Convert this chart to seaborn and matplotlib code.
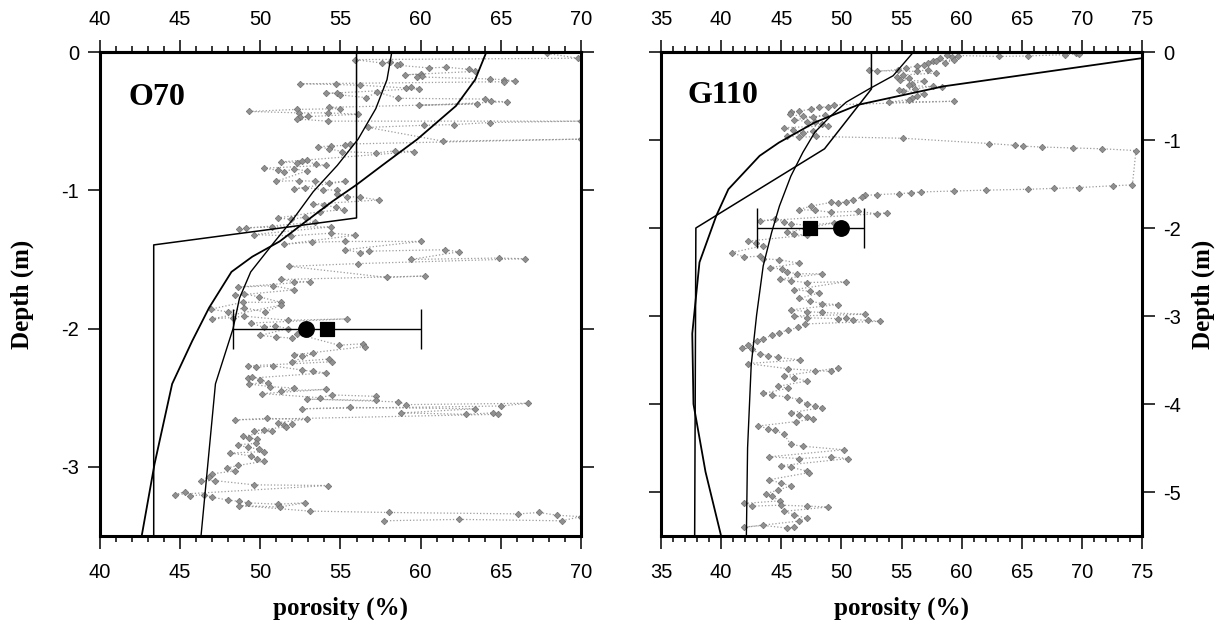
import matplotlib
matplotlib.use("Agg")
import matplotlib.pyplot as plt
import seaborn as sns
from matplotlib.ticker import MultipleLocator

# ---- O70 core: measured porosity (%) and depth (m) ----
o70_por = [67.9, 69.8, 55.9, 57.6, 58.1, 58.7, 58.5, 60.5, 61.6, 63.0, 63.4, 59.0, 60.0, 60.1, 59.8,
           64.3, 65.2, 65.9, 65.2, 52.5, 54.7, 56.2, 59.1, 59.4, 59.9, 54.1, 54.8, 55.0, 56.6, 57.3,
           58.6, 64.0, 64.4, 65.4, 59.9, 63.5, 54.3, 55.0, 52.3, 49.3, 52.4, 54.2, 56.1, 52.5, 53.0,
           52.3, 54.2, 70.0, 64.3, 62.1, 60.2, 56.7, 61.4, 70.0, 55.6, 55.3, 54.4, 53.6, 54.3, 55.1,
           57.2, 58.4, 59.6, 52.9, 51.3, 52.3, 52.6, 53.5, 54.1, 50.2, 51.1, 51.5, 52.1, 52.9, 51.0,
           52.4, 53.4, 54.3, 55.3, 52.1, 52.8, 53.9, 54.8, 54.8, 55.4, 56.2, 57.4, 53.3, 54.0, 54.7,
           55.2, 53.7, 51.1, 51.9, 52.8, 53.4, 48.7, 49.1, 50.7, 54.4, 49.6, 51.9, 54.4, 55.9, 51.5,
           53.2, 55.3, 60.0, 55.3, 56.2, 56.8, 61.5, 62.4, 59.4, 64.9, 66.5, 56.1, 51.8, 57.9, 60.3,
           51.3, 52.1, 53.1, 48.6, 50.8, 52.1, 48.4, 49.0, 49.9, 51.3, 48.9, 46.9, 48.0, 49.0, 50.3,
           51.3, 47.0, 48.3, 49.0, 51.7, 55.4, 49.4, 50.2, 50.9, 51.7, 50.0, 51.0, 52.0, 52.3, 54.9,
           56.4, 56.5, 52.1, 52.6, 53.3, 52.0, 54.3, 54.5, 49.2, 49.7, 50.8, 52.6, 53.3, 54.1, 49.2,
           49.5, 50.0, 50.5, 49.3, 50.6, 52.1, 51.3, 54.1, 50.1, 53.7, 54.5, 57.2, 57.2, 52.9, 58.6,
           59.1, 66.7, 65.0, 52.6, 55.6, 63.4, 58.8, 62.8, 64.5, 64.8, 48.4, 50.4, 52.9, 51.1, 51.5,
           52.0, 51.6, 49.6, 50.2, 50.7, 48.9, 49.3, 49.8, 49.75, 48.6, 49.2, 49.9, 50.2, 48.1, 49.4,
           49.8, 50.2, 48.6, 47.9, 48.4, 47.0, 46.8, 46.3, 47.2, 49.6, 54.2, 44.7, 45.3, 45.6, 46.5,
           47.0, 48.0, 48.7, 49.2, 51.1, 52.8, 51.2, 48.7, 53.1, 58.05, 66.1, 67.4, 68.5, 70.0, 68.8,
           62.4, 57.7]
o70_dep = [-0.01, -0.045, -0.055, -0.08, -0.075, -0.085, -0.095, -0.115, -0.11, -0.125, -0.14, -0.165,
           -0.16, -0.175, -0.18, -0.195, -0.2, -0.21, -0.215, -0.23, -0.235, -0.24, -0.26, -0.255,
           -0.265, -0.3, -0.295, -0.31, -0.33, -0.29, -0.335, -0.34, -0.355, -0.36, -0.385, -0.375,
           -0.4, -0.41, -0.415, -0.43, -0.44, -0.44, -0.45, -0.47, -0.465, -0.485, -0.5, -0.5, -0.51,
           -0.525, -0.53, -0.545, -0.645, -0.63, -0.665, -0.675, -0.68, -0.685, -0.7, -0.72, -0.73,
           -0.715, -0.72, -0.78, -0.795, -0.8, -0.785, -0.81, -0.82, -0.84, -0.855, -0.865, -0.845,
           -0.86, -0.935, -0.93, -0.935, -0.945, -0.935, -0.99, -0.98, -0.995, -1.0, -1.03, -1.045,
           -1.05, -1.07, -1.1, -1.11, -1.12, -1.14, -1.155, -1.2, -1.21, -1.195, -1.23, -1.28, -1.27,
           -1.265, -1.265, -1.32, -1.33, -1.31, -1.325, -1.39, -1.375, -1.37, -1.37, -1.43, -1.45,
           -1.44, -1.43, -1.445, -1.5, -1.49, -1.495, -1.53, -1.55, -1.63, -1.62, -1.645, -1.66,
           -1.66, -1.7, -1.69, -1.72, -1.76, -1.75, -1.77, -1.81, -1.81, -1.86, -1.88, -1.85, -1.88,
           -1.83, -1.93, -1.92, -1.91, -1.94, -1.93, -1.96, -1.99, -1.98, -2.0, -2.05, -2.06, -2.07,
           -2.04, -2.12, -2.11, -2.13, -2.19, -2.2, -2.18, -2.24, -2.22, -2.24, -2.27, -2.28, -2.27,
           -2.3, -2.31, -2.32, -2.36, -2.35, -2.37, -2.39, -2.4, -2.42, -2.43, -2.45, -2.44, -2.47,
           -2.5, -2.48, -2.49, -2.52, -2.51, -2.53, -2.55, -2.54, -2.56, -2.58, -2.57, -2.58, -2.61,
           -2.62, -2.61, -2.62, -2.66, -2.65, -2.655, -2.68, -2.7, -2.69, -2.71, -2.74, -2.73, -2.74,
           -2.78, -2.79, -2.8, -2.83, -2.84, -2.86, -2.87, -2.89, -2.9, -2.92, -2.94, -2.96, -2.99,
           -3.01, -3.03, -3.05, -3.07, -3.1, -3.1, -3.13, -3.135, -3.2, -3.18, -3.21, -3.2, -3.22,
           -3.24, -3.25, -3.26, -3.27, -3.26, -3.29, -3.28, -3.32, -3.33, -3.34, -3.33, -3.35, -3.36,
           -3.39, -3.38, -3.39]

# O70 model profiles
o70_step_por = [56.0, 56.0, 43.35, 43.35]
o70_step_dep = [0.0, -1.2, -1.395, -3.5]
o70_a_por = [58.2, 57.9, 57.2, 56.1, 54.8, 53.3, 52.1, 50.9, 49.4, 48.7, 48.3, 47.2, 46.3]
o70_a_dep = [0.0, -0.2, -0.41, -0.63, -0.82, -1.01, -1.2, -1.37, -1.59, -1.78, -2.0, -2.4, -3.5]
o70_b_por = [64.1, 63.4, 62.2, 59.8, 57.6, 56.0, 54.5, 52.9, 51.2, 49.5, 48.2, 46.8, 45.75, 44.5, 43.4, 42.6]
o70_b_dep = [0.0, -0.2, -0.39, -0.63, -0.82, -0.96, -1.08, -1.22, -1.37, -1.48, -1.59, -1.85, -2.09, -2.4, -2.98, -3.5]
o70_circle = (52.85, -2.0)
o70_square = (54.15, -2.0)
o70_err = 5.85

# ---- G110 core ----
g110_por = [69.5, 69.8, 68.6, 65.5, 63.1, 59.7, 59.2, 58.8, 58.2, 57.6, 59.4, 58.6, 57.9, 57.2, 56.9,
            56.3, 55.4, 54.7, 53.0, 52.3, 56.3, 57.2, 57.9, 55.1, 54.6, 55.6, 54.9, 56.9, 55.9, 55.6,
            58.4, 57.6, 56.1, 55.1, 54.8, 56.9, 56.3, 55.9, 55.6, 54.0, 59.4, 49.4, 48.9, 48.1, 47.5,
            46.5, 45.8, 45.7, 46.8, 47.6, 48.6, 46.1, 47.1, 47.8, 48.4, 48.9, 45.2, 46.0, 46.8, 47.6,
            45.5, 46.5, 47.9, 55.1, 62.3, 64.4, 65.1, 66.7, 69.3, 71.7, 74.5,
            74.2, 72.6, 69.8, 67.7, 65.5, 62.0, 59.4, 56.6, 55.8, 54.8, 53.0, 52.0, 51.7, 51.0, 50.4,
            49.7, 49.1, 47.5, 46.5, 47.8, 49.1, 51.4, 53.0, 53.8, 43.2, 44.5, 45.2, 45.8, 47.1, 49.4,
            45.5, 46.1, 47.1, 42.2, 42.9, 43.5, 40.9, 41.9, 43.2, 43.5, 44.8, 46.5, 44.1, 45.1, 45.5,
            46.3, 48.4, 44.9, 45.8, 47.1, 50.4, 46.1, 47.4, 48.1, 46.5, 47.4, 48.4, 49.7, 45.8, 47.1,
            48.4, 52.0, 46.1, 47.1, 49.7, 50.4, 51.0, 52.2, 53.2, 47.0, 46.4, 45.6, 44.8, 44.2, 43.5,
            43.0, 42.2, 41.75, 42.6, 43.2, 43.9, 44.7, 46.6, 42.2, 45.6, 47.8, 49.1, 49.7, 45.2, 46.1,
            47.1, 44.7, 45.6, 43.5, 44.2, 45.5, 46.5, 47.1, 47.8, 48.4, 45.8, 46.5, 47.1, 47.6, 46.2,
            43.1, 43.9, 44.5, 45.2, 45.8, 46.8, 50.2, 44.0, 46.5, 49.1, 50.55, 45.0, 45.8, 47.1, 47.3,
            44.0, 45.0, 45.8, 44.7, 43.7, 44.2, 44.9, 41.9, 42.6, 45.0, 47.1, 48.9, 45.2, 46.1, 47.1,
            46.5, 41.9, 43.5, 45.5, 46.1]
g110_dep = [-0.01, -0.02, -0.03, -0.045, -0.05, -0.04, -0.06, -0.03, -0.07, -0.1, -0.09, -0.12, -0.1,
            -0.13, -0.15, -0.16, -0.18, -0.2, -0.22, -0.21, -0.22, -0.2, -0.24, -0.26, -0.28, -0.3,
            -0.32, -0.33, -0.36, -0.38, -0.4, -0.39, -0.42, -0.44, -0.43, -0.48, -0.5, -0.52, -0.54,
            -0.57, -0.56, -0.6, -0.62, -0.63, -0.65, -0.67, -0.68, -0.71, -0.73, -0.74, -0.72, -0.77,
            -0.79, -0.8, -0.82, -0.84, -0.86, -0.89, -0.92, -0.9, -0.95, -0.97, -0.96, -0.98, -1.04,
            -1.06, -1.07, -1.08, -1.09, -1.1, -1.12,
            -1.51, -1.52, -1.54, -1.55, -1.56, -1.57, -1.58, -1.59, -1.6, -1.61, -1.62, -1.63, -1.65,
            -1.68, -1.7, -1.72, -1.71, -1.75, -1.79, -1.8, -1.82, -1.81, -1.84, -1.83, -1.92, -1.9,
            -1.93, -1.95, -1.97, -1.94, -2.05, -2.07, -2.08, -2.15, -2.17, -2.2, -2.28, -2.33, -2.32,
            -2.35, -2.36, -2.4, -2.45, -2.47, -2.5, -2.52, -2.52, -2.58, -2.6, -2.62, -2.61, -2.7,
            -2.72, -2.74, -2.8, -2.83, -2.86, -2.87, -2.93, -2.95, -2.96, -2.98, -3.0, -3.02, -3.03,
            -3.02, -3.04, -3.05, -3.06, -3.09, -3.13, -3.16, -3.19, -3.22, -3.26, -3.28, -3.33, -3.36,
            -3.38, -3.43, -3.45, -3.47, -3.5, -3.54, -3.6, -3.62, -3.63, -3.59, -3.68, -3.7, -3.74,
            -3.8, -3.82, -3.88, -3.9, -3.92, -3.95, -4.0, -4.02, -4.04, -4.1, -4.13, -4.15, -4.17,
            -4.2, -4.25, -4.28, -4.3, -4.34, -4.46, -4.48, -4.52, -4.6, -4.62, -4.6, -4.62, -4.7,
            -4.72, -4.76, -4.78, -4.86, -4.9, -4.93, -4.98, -5.02, -5.05, -5.1, -5.13, -5.16, -5.15,
            -5.16, -5.17, -5.22, -5.26, -5.3, -5.33, -5.4, -5.38, -5.41, -5.4]

g110_step_por = [52.5, 52.5, 48.6, 37.9, 37.8]
g110_step_dep = [0.0, -0.42, -1.1, -2.0, -5.5]
g110_a_por = [56.0, 54.3, 52.3, 50.4, 49.1, 47.8, 46.8, 45.8, 44.85, 44.2, 43.5, 42.95, 42.5, 42.2, 42.1]
g110_a_dep = [0.0, -0.27, -0.42, -0.57, -0.73, -0.91, -1.14, -1.41, -1.75, -2.05, -2.43, -2.99, -3.56, -4.5, -5.5]
g110_b_por = [75.0, 58.5, 51.4, 47.8, 44.8, 43.2, 40.6, 39.6, 38.2, 37.6, 37.7, 38.7, 40.0]
g110_b_dep = [-0.07, -0.39, -0.6, -0.8, -1.03, -1.18, -1.56, -1.86, -2.39, -3.2, -4.0, -4.77, -5.5]
g110_circle = (50.0, -2.0)
g110_square = (47.4, -2.0)
g110_err = 4.45

sns.set_style("ticks")
plt.rcParams['axes.unicode_minus'] = False
plt.rcParams['font.family'] = ['Liberation Sans', 'DejaVu Sans']
for key in ('text.color', 'axes.labelcolor', 'xtick.color', 'ytick.color', 'axes.edgecolor'):
    plt.rcParams[key] = 'black'

fig = plt.figure(figsize=(12.26, 6.2), dpi=100)
ax1 = fig.add_axes([100 / 1226, 84 / 620, 481 / 1226, 484 / 620])
ax2 = fig.add_axes([661 / 1226, 84 / 620, 481 / 1226, 484 / 620])

serif = dict(family='Liberation Serif', weight='bold')
TICK_FS = 14.5
LABEL_FS = 18


def draw_core(ax, por, dep, step, a, b, circle, square, err):
    # measured profile: grey diamonds joined by dotted line
    sns.lineplot(x=por, y=dep, sort=False, estimator=None, ax=ax, color='#9c9c9c', lw=0.9,
                 linestyle=':', marker='D', markersize=3.3, markerfacecolor='#909090',
                 markeredgecolor='#707070', markeredgewidth=0.5, zorder=2)
    # model curves
    sns.lineplot(x=step[0], y=step[1], sort=False, estimator=None, ax=ax, color='black', lw=1.1, zorder=3)
    sns.lineplot(x=a[0], y=a[1], sort=False, estimator=None, ax=ax, color='black', lw=1.0, zorder=3)
    sns.lineplot(x=b[0], y=b[1], sort=False, estimator=None, ax=ax, color='black', lw=1.3, zorder=3)
    ax.errorbar(square[0], square[1], xerr=err, color='black', lw=1.0, capsize=14.5,
                capthick=1.0, fmt='none', zorder=4)
    sns.scatterplot(x=[circle[0]], y=[circle[1]], ax=ax, marker='o', s=125, color='black',
                    edgecolor='black', zorder=5)
    sns.scatterplot(x=[square[0]], y=[square[1]], ax=ax, marker='s', s=115, color='black',
                    edgecolor='black', zorder=5)


draw_core(ax1, o70_por, o70_dep, (o70_step_por, o70_step_dep), (o70_a_por, o70_a_dep),
          (o70_b_por, o70_b_dep), o70_circle, o70_square, o70_err)
draw_core(ax2, g110_por, g110_dep, (g110_step_por, g110_step_dep), (g110_a_por, g110_a_dep),
          (g110_b_por, g110_b_dep), g110_circle, g110_square, g110_err)

ax1.set_xlim(40, 70)
ax1.set_ylim(-3.5, 0)
ax1.set_yticks([0, -1, -2, -3])
ax2.set_xlim(35, 75)
ax2.set_ylim(-5.5, 0)
ax2.set_yticks([0, -1, -2, -3, -4, -5])

for ax in (ax1, ax2):
    ax.xaxis.set_major_locator(MultipleLocator(5))
    ax.xaxis.set_minor_locator(MultipleLocator(1))
    ax.tick_params(which='both', direction='out', top=False, bottom=True, left=True, right=True,
                   labeltop=False, labelbottom=True, labelsize=TICK_FS, width=1.1)
    ax.tick_params(axis='x', which='major', length=9, pad=10.5)
    ax.tick_params(axis='x', which='minor', length=4.5)
    ax.tick_params(axis='y', which='major', length=9, pad=6)
    ax.tick_params(axis='y', which='minor', length=0)
    for s in ax.spines.values():
        s.set_linewidth(2.2)
    # top scale drawn on a twin axis so its labels can sit closer to the frame
    top = ax.secondary_xaxis('top')
    top.xaxis.set_major_locator(MultipleLocator(5))
    top.xaxis.set_minor_locator(MultipleLocator(1))
    top.tick_params(which='both', direction='out', labelsize=TICK_FS, width=1.1)
    top.tick_params(which='major', length=9, pad=7.5)
    top.tick_params(which='minor', length=4.5)
    top.spines['top'].set_linewidth(2.2)
    ax.set_xlabel('porosity (%)', fontsize=LABEL_FS, **serif)
    ax.xaxis.set_label_coords(0.5, -0.149)
    ax.xaxis.label.set_verticalalignment('center')

ax1.tick_params(labelleft=True, labelright=False)
ax2.tick_params(labelleft=False, labelright=True)
ax1.set_ylabel('Depth (m)', fontsize=LABEL_FS, **serif)
ax1.yaxis.set_label_coords(-0.162, 0.5)
ax1.yaxis.label.set_verticalalignment('center')
ax2.yaxis.set_label_position('right')
ax2.set_ylabel('Depth (m)', fontsize=LABEL_FS, rotation=90, **serif)
ax2.yaxis.set_label_coords(1.127, 0.5)
ax2.yaxis.label.set_verticalalignment('center')

ax1.text(41.8, -0.33, 'O70', fontsize=23, va='center', ha='left', **serif)
ax2.text(37.2, -0.49, 'G110', fontsize=23, va='center', ha='left', **serif)

fig.savefig('out.png', dpi=100)
